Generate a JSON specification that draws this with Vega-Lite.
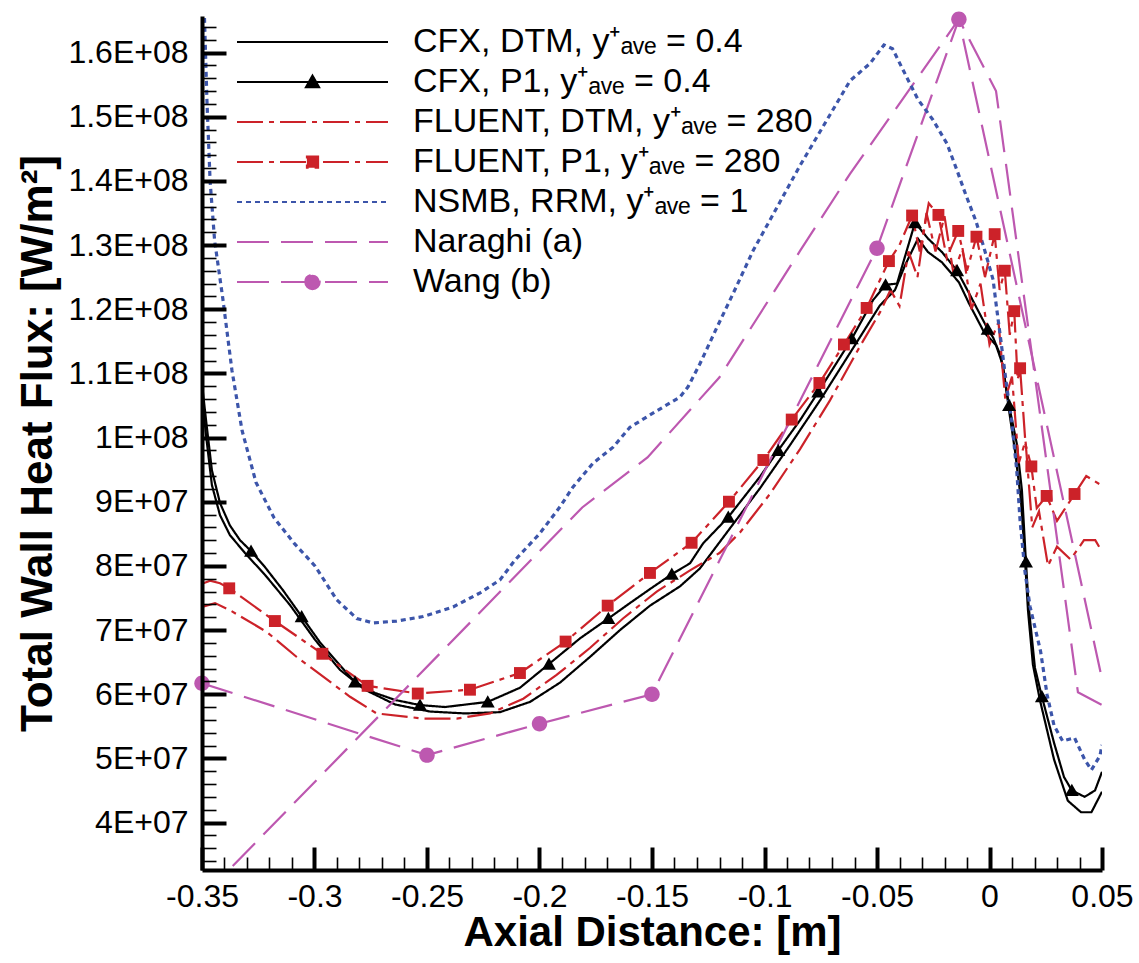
{
  "$schema": "https://vega.github.io/schema/vega-lite/v6.json",
  "width": 900,
  "height": 854,
  "autosize": {"type": "none"},
  "padding": {"left": 202, "top": 16, "right": 37, "bottom": 93},
  "background": "white",
  "config": {"view": {"stroke": null}, "font": "Liberation Sans"},
  "datasets": {
    "lines": [
      {"series": "CFX, DTM, y⁺ₐᵥₑ = 0.4", "x": -0.35, "y": 10.66e7},
      {"series": "CFX, DTM, y⁺ₐᵥₑ = 0.4", "x": -0.3482, "y": 10.03e7},
      {"series": "CFX, DTM, y⁺ₐᵥₑ = 0.4", "x": -0.3456, "y": 9.26e7},
      {"series": "CFX, DTM, y⁺ₐᵥₑ = 0.4", "x": -0.342, "y": 8.79e7},
      {"series": "CFX, DTM, y⁺ₐᵥₑ = 0.4", "x": -0.3376, "y": 8.48e7},
      {"series": "CFX, DTM, y⁺ₐᵥₑ = 0.4", "x": -0.3309, "y": 8.2e7},
      {"series": "CFX, DTM, y⁺ₐᵥₑ = 0.4", "x": -0.322, "y": 7.86e7},
      {"series": "CFX, DTM, y⁺ₐᵥₑ = 0.4", "x": -0.3109, "y": 7.39e7},
      {"series": "CFX, DTM, y⁺ₐᵥₑ = 0.4", "x": -0.2998, "y": 6.85e7},
      {"series": "CFX, DTM, y⁺ₐᵥₑ = 0.4", "x": -0.2887, "y": 6.38e7},
      {"series": "CFX, DTM, y⁺ₐᵥₑ = 0.4", "x": -0.2776, "y": 6.07e7},
      {"series": "CFX, DTM, y⁺ₐᵥₑ = 0.4", "x": -0.2642, "y": 5.84e7},
      {"series": "CFX, DTM, y⁺ₐᵥₑ = 0.4", "x": -0.2487, "y": 5.73e7},
      {"series": "CFX, DTM, y⁺ₐᵥₑ = 0.4", "x": -0.2331, "y": 5.7e7},
      {"series": "CFX, DTM, y⁺ₐᵥₑ = 0.4", "x": -0.2176, "y": 5.72e7},
      {"series": "CFX, DTM, y⁺ₐᵥₑ = 0.4", "x": -0.2042, "y": 5.88e7},
      {"series": "CFX, DTM, y⁺ₐᵥₑ = 0.4", "x": -0.1909, "y": 6.18e7},
      {"series": "CFX, DTM, y⁺ₐᵥₑ = 0.4", "x": -0.1776, "y": 6.58e7},
      {"series": "CFX, DTM, y⁺ₐᵥₑ = 0.4", "x": -0.1642, "y": 7.0e7},
      {"series": "CFX, DTM, y⁺ₐᵥₑ = 0.4", "x": -0.1509, "y": 7.38e7},
      {"series": "CFX, DTM, y⁺ₐᵥₑ = 0.4", "x": -0.1376, "y": 7.68e7},
      {"series": "CFX, DTM, y⁺ₐᵥₑ = 0.4", "x": -0.1287, "y": 7.96e7},
      {"series": "CFX, DTM, y⁺ₐᵥₑ = 0.4", "x": -0.1176, "y": 8.48e7},
      {"series": "CFX, DTM, y⁺ₐᵥₑ = 0.4", "x": -0.102, "y": 9.21e7},
      {"series": "CFX, DTM, y⁺ₐᵥₑ = 0.4", "x": -0.0887, "y": 9.88e7},
      {"series": "CFX, DTM, y⁺ₐᵥₑ = 0.4", "x": -0.0753, "y": 10.58e7},
      {"series": "CFX, DTM, y⁺ₐᵥₑ = 0.4", "x": -0.0598, "y": 11.44e7},
      {"series": "CFX, DTM, y⁺ₐᵥₑ = 0.4", "x": -0.0487, "y": 12.06e7},
      {"series": "CFX, DTM, y⁺ₐᵥₑ = 0.4", "x": -0.042, "y": 12.3e7},
      {"series": "CFX, DTM, y⁺ₐᵥₑ = 0.4", "x": -0.0376, "y": 12.68e7},
      {"series": "CFX, DTM, y⁺ₐᵥₑ = 0.4", "x": -0.0318, "y": 13.1e7},
      {"series": "CFX, DTM, y⁺ₐᵥₑ = 0.4", "x": -0.0273, "y": 12.89e7},
      {"series": "CFX, DTM, y⁺ₐᵥₑ = 0.4", "x": -0.0211, "y": 12.73e7},
      {"series": "CFX, DTM, y⁺ₐᵥₑ = 0.4", "x": -0.0136, "y": 12.42e7},
      {"series": "CFX, DTM, y⁺ₐᵥₑ = 0.4", "x": -0.0091, "y": 12.09e7},
      {"series": "CFX, DTM, y⁺ₐᵥₑ = 0.4", "x": -0.0024, "y": 11.64e7},
      {"series": "CFX, DTM, y⁺ₐᵥₑ = 0.4", "x": 0.0029, "y": 11.44e7},
      {"series": "CFX, DTM, y⁺ₐᵥₑ = 0.4", "x": 0.006, "y": 11.12e7},
      {"series": "CFX, DTM, y⁺ₐᵥₑ = 0.4", "x": 0.0087, "y": 10.42e7},
      {"series": "CFX, DTM, y⁺ₐᵥₑ = 0.4", "x": 0.0113, "y": 9.8e7},
      {"series": "CFX, DTM, y⁺ₐᵥₑ = 0.4", "x": 0.014, "y": 9.02e7},
      {"series": "CFX, DTM, y⁺ₐᵥₑ = 0.4", "x": 0.0158, "y": 8.09e7},
      {"series": "CFX, DTM, y⁺ₐᵥₑ = 0.4", "x": 0.0171, "y": 7.31e7},
      {"series": "CFX, DTM, y⁺ₐᵥₑ = 0.4", "x": 0.0193, "y": 6.46e7},
      {"series": "CFX, DTM, y⁺ₐᵥₑ = 0.4", "x": 0.0224, "y": 5.91e7},
      {"series": "CFX, DTM, y⁺ₐᵥₑ = 0.4", "x": 0.0287, "y": 4.98e7},
      {"series": "CFX, DTM, y⁺ₐᵥₑ = 0.4", "x": 0.0348, "y": 4.34e7},
      {"series": "CFX, DTM, y⁺ₐᵥₑ = 0.4", "x": 0.0407, "y": 4.16e7},
      {"series": "CFX, DTM, y⁺ₐᵥₑ = 0.4", "x": 0.0453, "y": 4.16e7},
      {"series": "CFX, DTM, y⁺ₐᵥₑ = 0.4", "x": 0.05, "y": 4.48e7},

      {"series": "CFX, P1, y⁺ₐᵥₑ = 0.4", "x": -0.35, "y": 10.84e7},
      {"series": "CFX, P1, y⁺ₐᵥₑ = 0.4", "x": -0.3482, "y": 10.27e7},
      {"series": "CFX, P1, y⁺ₐᵥₑ = 0.4", "x": -0.3456, "y": 9.49e7},
      {"series": "CFX, P1, y⁺ₐᵥₑ = 0.4", "x": -0.342, "y": 8.98e7},
      {"series": "CFX, P1, y⁺ₐᵥₑ = 0.4", "x": -0.3376, "y": 8.63e7},
      {"series": "CFX, P1, y⁺ₐᵥₑ = 0.4", "x": -0.3331, "y": 8.4e7},
      {"series": "CFX, P1, y⁺ₐᵥₑ = 0.4", "x": -0.3282, "y": 8.23e7},
      {"series": "CFX, P1, y⁺ₐᵥₑ = 0.4", "x": -0.322, "y": 7.98e7},
      {"series": "CFX, P1, y⁺ₐᵥₑ = 0.4", "x": -0.314, "y": 7.62e7},
      {"series": "CFX, P1, y⁺ₐᵥₑ = 0.4", "x": -0.3057, "y": 7.21e7},
      {"series": "CFX, P1, y⁺ₐᵥₑ = 0.4", "x": -0.2976, "y": 6.81e7},
      {"series": "CFX, P1, y⁺ₐᵥₑ = 0.4", "x": -0.2887, "y": 6.45e7},
      {"series": "CFX, P1, y⁺ₐᵥₑ = 0.4", "x": -0.282, "y": 6.19e7},
      {"series": "CFX, P1, y⁺ₐᵥₑ = 0.4", "x": -0.2731, "y": 6.02e7},
      {"series": "CFX, P1, y⁺ₐᵥₑ = 0.4", "x": -0.2642, "y": 5.91e7},
      {"series": "CFX, P1, y⁺ₐᵥₑ = 0.4", "x": -0.2531, "y": 5.83e7},
      {"series": "CFX, P1, y⁺ₐᵥₑ = 0.4", "x": -0.242, "y": 5.8e7},
      {"series": "CFX, P1, y⁺ₐᵥₑ = 0.4", "x": -0.223, "y": 5.88e7},
      {"series": "CFX, P1, y⁺ₐᵥₑ = 0.4", "x": -0.2087, "y": 6.1e7},
      {"series": "CFX, P1, y⁺ₐᵥₑ = 0.4", "x": -0.1958, "y": 6.47e7},
      {"series": "CFX, P1, y⁺ₐᵥₑ = 0.4", "x": -0.182, "y": 6.87e7},
      {"series": "CFX, P1, y⁺ₐᵥₑ = 0.4", "x": -0.1694, "y": 7.18e7},
      {"series": "CFX, P1, y⁺ₐᵥₑ = 0.4", "x": -0.1598, "y": 7.42e7},
      {"series": "CFX, P1, y⁺ₐᵥₑ = 0.4", "x": -0.1496, "y": 7.67e7},
      {"series": "CFX, P1, y⁺ₐᵥₑ = 0.4", "x": -0.1412, "y": 7.87e7},
      {"series": "CFX, P1, y⁺ₐᵥₑ = 0.4", "x": -0.1331, "y": 8.04e7},
      {"series": "CFX, P1, y⁺ₐᵥₑ = 0.4", "x": -0.1273, "y": 8.35e7},
      {"series": "CFX, P1, y⁺ₐᵥₑ = 0.4", "x": -0.1161, "y": 8.76e7},
      {"series": "CFX, P1, y⁺ₐᵥₑ = 0.4", "x": -0.102, "y": 9.39e7},
      {"series": "CFX, P1, y⁺ₐᵥₑ = 0.4", "x": -0.0939, "y": 9.8e7},
      {"series": "CFX, P1, y⁺ₐᵥₑ = 0.4", "x": -0.0842, "y": 10.27e7},
      {"series": "CFX, P1, y⁺ₐᵥₑ = 0.4", "x": -0.0761, "y": 10.71e7},
      {"series": "CFX, P1, y⁺ₐᵥₑ = 0.4", "x": -0.0612, "y": 11.54e7},
      {"series": "CFX, P1, y⁺ₐᵥₑ = 0.4", "x": -0.0518, "y": 12.14e7},
      {"series": "CFX, P1, y⁺ₐᵥₑ = 0.4", "x": -0.0462, "y": 12.38e7},
      {"series": "CFX, P1, y⁺ₐᵥₑ = 0.4", "x": -0.0411, "y": 12.4e7},
      {"series": "CFX, P1, y⁺ₐᵥₑ = 0.4", "x": -0.0331, "y": 13.35e7},
      {"series": "CFX, P1, y⁺ₐᵥₑ = 0.4", "x": -0.0273, "y": 13.1e7},
      {"series": "CFX, P1, y⁺ₐᵥₑ = 0.4", "x": -0.0211, "y": 12.89e7},
      {"series": "CFX, P1, y⁺ₐᵥₑ = 0.4", "x": -0.0144, "y": 12.6e7},
      {"series": "CFX, P1, y⁺ₐᵥₑ = 0.4", "x": -0.0091, "y": 12.25e7},
      {"series": "CFX, P1, y⁺ₐᵥₑ = 0.4", "x": -0.0008, "y": 11.69e7},
      {"series": "CFX, P1, y⁺ₐᵥₑ = 0.4", "x": 0.0016, "y": 11.56e7},
      {"series": "CFX, P1, y⁺ₐᵥₑ = 0.4", "x": 0.0051, "y": 11.26e7},
      {"series": "CFX, P1, y⁺ₐᵥₑ = 0.4", "x": 0.0087, "y": 10.5e7},
      {"series": "CFX, P1, y⁺ₐᵥₑ = 0.4", "x": 0.0121, "y": 9.91e7},
      {"series": "CFX, P1, y⁺ₐᵥₑ = 0.4", "x": 0.0144, "y": 9.18e7},
      {"series": "CFX, P1, y⁺ₐᵥₑ = 0.4", "x": 0.0162, "y": 8.06e7},
      {"series": "CFX, P1, y⁺ₐᵥₑ = 0.4", "x": 0.0174, "y": 7.37e7},
      {"series": "CFX, P1, y⁺ₐᵥₑ = 0.4", "x": 0.0202, "y": 6.41e7},
      {"series": "CFX, P1, y⁺ₐᵥₑ = 0.4", "x": 0.0233, "y": 5.96e7},
      {"series": "CFX, P1, y⁺ₐᵥₑ = 0.4", "x": 0.0287, "y": 5.24e7},
      {"series": "CFX, P1, y⁺ₐᵥₑ = 0.4", "x": 0.0331, "y": 4.71e7},
      {"series": "CFX, P1, y⁺ₐᵥₑ = 0.4", "x": 0.0366, "y": 4.5e7},
      {"series": "CFX, P1, y⁺ₐᵥₑ = 0.4", "x": 0.0423, "y": 4.4e7},
      {"series": "CFX, P1, y⁺ₐᵥₑ = 0.4", "x": 0.0469, "y": 4.5e7},
      {"series": "CFX, P1, y⁺ₐᵥₑ = 0.4", "x": 0.05, "y": 4.79e7},

      {"series": "FLUENT, DTM, y⁺ₐᵥₑ = 280", "x": -0.35, "y": 7.36e7},
      {"series": "FLUENT, DTM, y⁺ₐᵥₑ = 280", "x": -0.3442, "y": 7.42e7},
      {"series": "FLUENT, DTM, y⁺ₐᵥₑ = 280", "x": -0.3376, "y": 7.31e7},
      {"series": "FLUENT, DTM, y⁺ₐᵥₑ = 280", "x": -0.3212, "y": 6.97e7},
      {"series": "FLUENT, DTM, y⁺ₐᵥₑ = 280", "x": -0.3079, "y": 6.58e7},
      {"series": "FLUENT, DTM, y⁺ₐᵥₑ = 280", "x": -0.2842, "y": 5.96e7},
      {"series": "FLUENT, DTM, y⁺ₐᵥₑ = 280", "x": -0.2724, "y": 5.7e7},
      {"series": "FLUENT, DTM, y⁺ₐᵥₑ = 280", "x": -0.2516, "y": 5.62e7},
      {"series": "FLUENT, DTM, y⁺ₐᵥₑ = 280", "x": -0.2368, "y": 5.62e7},
      {"series": "FLUENT, DTM, y⁺ₐᵥₑ = 280", "x": -0.222, "y": 5.7e7},
      {"series": "FLUENT, DTM, y⁺ₐᵥₑ = 280", "x": -0.2072, "y": 5.93e7},
      {"series": "FLUENT, DTM, y⁺ₐᵥₑ = 280", "x": -0.1924, "y": 6.3e7},
      {"series": "FLUENT, DTM, y⁺ₐᵥₑ = 280", "x": -0.1776, "y": 6.72e7},
      {"series": "FLUENT, DTM, y⁺ₐᵥₑ = 280", "x": -0.1629, "y": 7.18e7},
      {"series": "FLUENT, DTM, y⁺ₐᵥₑ = 280", "x": -0.1479, "y": 7.6e7},
      {"series": "FLUENT, DTM, y⁺ₐᵥₑ = 280", "x": -0.1331, "y": 7.93e7},
      {"series": "FLUENT, DTM, y⁺ₐᵥₑ = 280", "x": -0.12, "y": 8.2e7},
      {"series": "FLUENT, DTM, y⁺ₐᵥₑ = 280", "x": -0.1109, "y": 8.52e7},
      {"series": "FLUENT, DTM, y⁺ₐᵥₑ = 280", "x": -0.0976, "y": 9.12e7},
      {"series": "FLUENT, DTM, y⁺ₐᵥₑ = 280", "x": -0.0842, "y": 9.82e7},
      {"series": "FLUENT, DTM, y⁺ₐᵥₑ = 280", "x": -0.0709, "y": 10.58e7},
      {"series": "FLUENT, DTM, y⁺ₐᵥₑ = 280", "x": -0.0576, "y": 11.42e7},
      {"series": "FLUENT, DTM, y⁺ₐᵥₑ = 280", "x": -0.0487, "y": 11.95e7},
      {"series": "FLUENT, DTM, y⁺ₐᵥₑ = 280", "x": -0.044, "y": 12.3e7},
      {"series": "FLUENT, DTM, y⁺ₐᵥₑ = 280", "x": -0.04, "y": 12.05e7},
      {"series": "FLUENT, DTM, y⁺ₐᵥₑ = 280", "x": -0.036, "y": 12.9e7},
      {"series": "FLUENT, DTM, y⁺ₐᵥₑ = 280", "x": -0.032, "y": 12.5e7},
      {"series": "FLUENT, DTM, y⁺ₐᵥₑ = 280", "x": -0.028, "y": 13.5e7},
      {"series": "FLUENT, DTM, y⁺ₐᵥₑ = 280", "x": -0.024, "y": 12.9e7},
      {"series": "FLUENT, DTM, y⁺ₐᵥₑ = 280", "x": -0.02, "y": 13.45e7},
      {"series": "FLUENT, DTM, y⁺ₐᵥₑ = 280", "x": -0.016, "y": 12.55e7},
      {"series": "FLUENT, DTM, y⁺ₐᵥₑ = 280", "x": -0.012, "y": 12.95e7},
      {"series": "FLUENT, DTM, y⁺ₐᵥₑ = 280", "x": -0.008, "y": 12.0e7},
      {"series": "FLUENT, DTM, y⁺ₐᵥₑ = 280", "x": -0.004, "y": 12.4e7},
      {"series": "FLUENT, DTM, y⁺ₐᵥₑ = 280", "x": 0.0, "y": 11.45e7},
      {"series": "FLUENT, DTM, y⁺ₐᵥₑ = 280", "x": 0.004, "y": 11.8e7},
      {"series": "FLUENT, DTM, y⁺ₐᵥₑ = 280", "x": 0.007, "y": 10.6e7},
      {"series": "FLUENT, DTM, y⁺ₐᵥₑ = 280", "x": 0.01, "y": 10.95e7},
      {"series": "FLUENT, DTM, y⁺ₐᵥₑ = 280", "x": 0.013, "y": 9.6e7},
      {"series": "FLUENT, DTM, y⁺ₐᵥₑ = 280", "x": 0.016, "y": 9.95e7},
      {"series": "FLUENT, DTM, y⁺ₐᵥₑ = 280", "x": 0.019, "y": 8.6e7},
      {"series": "FLUENT, DTM, y⁺ₐᵥₑ = 280", "x": 0.022, "y": 8.85e7},
      {"series": "FLUENT, DTM, y⁺ₐᵥₑ = 280", "x": 0.026, "y": 8.0e7},
      {"series": "FLUENT, DTM, y⁺ₐᵥₑ = 280", "x": 0.03, "y": 8.3e7},
      {"series": "FLUENT, DTM, y⁺ₐᵥₑ = 280", "x": 0.036, "y": 8.1e7},
      {"series": "FLUENT, DTM, y⁺ₐᵥₑ = 280", "x": 0.042, "y": 8.4e7},
      {"series": "FLUENT, DTM, y⁺ₐᵥₑ = 280", "x": 0.047, "y": 8.4e7},
      {"series": "FLUENT, DTM, y⁺ₐᵥₑ = 280", "x": 0.05, "y": 8.22e7},

      {"series": "FLUENT, P1, y⁺ₐᵥₑ = 280", "x": -0.35, "y": 7.72e7},
      {"series": "FLUENT, P1, y⁺ₐᵥₑ = 280", "x": -0.3464, "y": 7.77e7},
      {"series": "FLUENT, P1, y⁺ₐᵥₑ = 280", "x": -0.342, "y": 7.73e7},
      {"series": "FLUENT, P1, y⁺ₐᵥₑ = 280", "x": -0.3379, "y": 7.65e7},
      {"series": "FLUENT, P1, y⁺ₐᵥₑ = 280", "x": -0.3176, "y": 7.14e7},
      {"series": "FLUENT, P1, y⁺ₐᵥₑ = 280", "x": -0.2965, "y": 6.63e7},
      {"series": "FLUENT, P1, y⁺ₐᵥₑ = 280", "x": -0.2764, "y": 6.13e7},
      {"series": "FLUENT, P1, y⁺ₐᵥₑ = 280", "x": -0.2541, "y": 6.01e7},
      {"series": "FLUENT, P1, y⁺ₐᵥₑ = 280", "x": -0.2309, "y": 6.07e7},
      {"series": "FLUENT, P1, y⁺ₐᵥₑ = 280", "x": -0.2087, "y": 6.33e7},
      {"series": "FLUENT, P1, y⁺ₐᵥₑ = 280", "x": -0.1884, "y": 6.82e7},
      {"series": "FLUENT, P1, y⁺ₐᵥₑ = 280", "x": -0.1697, "y": 7.38e7},
      {"series": "FLUENT, P1, y⁺ₐᵥₑ = 280", "x": -0.1509, "y": 7.89e7},
      {"series": "FLUENT, P1, y⁺ₐᵥₑ = 280", "x": -0.1324, "y": 8.36e7},
      {"series": "FLUENT, P1, y⁺ₐᵥₑ = 280", "x": -0.1158, "y": 9.0e7},
      {"series": "FLUENT, P1, y⁺ₐᵥₑ = 280", "x": -0.1005, "y": 9.65e7},
      {"series": "FLUENT, P1, y⁺ₐᵥₑ = 280", "x": -0.0879, "y": 10.28e7},
      {"series": "FLUENT, P1, y⁺ₐᵥₑ = 280", "x": -0.0756, "y": 10.85e7},
      {"series": "FLUENT, P1, y⁺ₐᵥₑ = 280", "x": -0.0647, "y": 11.45e7},
      {"series": "FLUENT, P1, y⁺ₐᵥₑ = 280", "x": -0.0546, "y": 12.02e7},
      {"series": "FLUENT, P1, y⁺ₐᵥₑ = 280", "x": -0.0447, "y": 12.75e7},
      {"series": "FLUENT, P1, y⁺ₐᵥₑ = 280", "x": -0.04, "y": 13.0e7},
      {"series": "FLUENT, P1, y⁺ₐᵥₑ = 280", "x": -0.0344, "y": 13.46e7},
      {"series": "FLUENT, P1, y⁺ₐᵥₑ = 280", "x": -0.031, "y": 12.9e7},
      {"series": "FLUENT, P1, y⁺ₐᵥₑ = 280", "x": -0.027, "y": 13.65e7},
      {"series": "FLUENT, P1, y⁺ₐᵥₑ = 280", "x": -0.0227, "y": 13.47e7},
      {"series": "FLUENT, P1, y⁺ₐᵥₑ = 280", "x": -0.019, "y": 12.8e7},
      {"series": "FLUENT, P1, y⁺ₐᵥₑ = 280", "x": -0.0139, "y": 13.22e7},
      {"series": "FLUENT, P1, y⁺ₐᵥₑ = 280", "x": -0.01, "y": 12.6e7},
      {"series": "FLUENT, P1, y⁺ₐᵥₑ = 280", "x": -0.0058, "y": 13.13e7},
      {"series": "FLUENT, P1, y⁺ₐᵥₑ = 280", "x": -0.002, "y": 12.5e7},
      {"series": "FLUENT, P1, y⁺ₐᵥₑ = 280", "x": 0.0023, "y": 13.17e7},
      {"series": "FLUENT, P1, y⁺ₐᵥₑ = 280", "x": 0.0045, "y": 12.3e7},
      {"series": "FLUENT, P1, y⁺ₐᵥₑ = 280", "x": 0.0068, "y": 12.6e7},
      {"series": "FLUENT, P1, y⁺ₐᵥₑ = 280", "x": 0.009, "y": 11.6e7},
      {"series": "FLUENT, P1, y⁺ₐᵥₑ = 280", "x": 0.011, "y": 11.97e7},
      {"series": "FLUENT, P1, y⁺ₐᵥₑ = 280", "x": 0.0125, "y": 10.9e7},
      {"series": "FLUENT, P1, y⁺ₐᵥₑ = 280", "x": 0.0136, "y": 11.08e7},
      {"series": "FLUENT, P1, y⁺ₐᵥₑ = 280", "x": 0.016, "y": 9.9e7},
      {"series": "FLUENT, P1, y⁺ₐᵥₑ = 280", "x": 0.0186, "y": 9.55e7},
      {"series": "FLUENT, P1, y⁺ₐᵥₑ = 280", "x": 0.021, "y": 8.9e7},
      {"series": "FLUENT, P1, y⁺ₐᵥₑ = 280", "x": 0.0254, "y": 9.09e7},
      {"series": "FLUENT, P1, y⁺ₐᵥₑ = 280", "x": 0.03, "y": 8.7e7},
      {"series": "FLUENT, P1, y⁺ₐᵥₑ = 280", "x": 0.0378, "y": 9.12e7},
      {"series": "FLUENT, P1, y⁺ₐᵥₑ = 280", "x": 0.043, "y": 9.4e7},
      {"series": "FLUENT, P1, y⁺ₐᵥₑ = 280", "x": 0.05, "y": 9.25e7},

      {"series": "NSMB, RRM, y⁺ₐᵥₑ = 1", "x": -0.3489, "y": 16.54e7},
      {"series": "NSMB, RRM, y⁺ₐᵥₑ = 1", "x": -0.3478, "y": 15.25e7},
      {"series": "NSMB, RRM, y⁺ₐᵥₑ = 1", "x": -0.3464, "y": 14.0e7},
      {"series": "NSMB, RRM, y⁺ₐᵥₑ = 1", "x": -0.3444, "y": 13.07e7},
      {"series": "NSMB, RRM, y⁺ₐᵥₑ = 1", "x": -0.3408, "y": 12.18e7},
      {"series": "NSMB, RRM, y⁺ₐᵥₑ = 1", "x": -0.3367, "y": 11.05e7},
      {"series": "NSMB, RRM, y⁺ₐᵥₑ = 1", "x": -0.3322, "y": 10.11e7},
      {"series": "NSMB, RRM, y⁺ₐᵥₑ = 1", "x": -0.326, "y": 9.3e7},
      {"series": "NSMB, RRM, y⁺ₐᵥₑ = 1", "x": -0.318, "y": 8.75e7},
      {"series": "NSMB, RRM, y⁺ₐᵥₑ = 1", "x": -0.309, "y": 8.35e7},
      {"series": "NSMB, RRM, y⁺ₐᵥₑ = 1", "x": -0.2998, "y": 8.0e7},
      {"series": "NSMB, RRM, y⁺ₐᵥₑ = 1", "x": -0.2901, "y": 7.47e7},
      {"series": "NSMB, RRM, y⁺ₐᵥₑ = 1", "x": -0.2812, "y": 7.18e7},
      {"series": "NSMB, RRM, y⁺ₐᵥₑ = 1", "x": -0.274, "y": 7.11e7},
      {"series": "NSMB, RRM, y⁺ₐᵥₑ = 1", "x": -0.2635, "y": 7.14e7},
      {"series": "NSMB, RRM, y⁺ₐᵥₑ = 1", "x": -0.2518, "y": 7.21e7},
      {"series": "NSMB, RRM, y⁺ₐᵥₑ = 1", "x": -0.2384, "y": 7.36e7},
      {"series": "NSMB, RRM, y⁺ₐᵥₑ = 1", "x": -0.2264, "y": 7.58e7},
      {"series": "NSMB, RRM, y⁺ₐᵥₑ = 1", "x": -0.2176, "y": 7.78e7},
      {"series": "NSMB, RRM, y⁺ₐᵥₑ = 1", "x": -0.2109, "y": 8.09e7},
      {"series": "NSMB, RRM, y⁺ₐᵥₑ = 1", "x": -0.2, "y": 8.5e7},
      {"series": "NSMB, RRM, y⁺ₐᵥₑ = 1", "x": -0.1909, "y": 8.92e7},
      {"series": "NSMB, RRM, y⁺ₐᵥₑ = 1", "x": -0.1851, "y": 9.23e7},
      {"series": "NSMB, RRM, y⁺ₐᵥₑ = 1", "x": -0.1762, "y": 9.6e7},
      {"series": "NSMB, RRM, y⁺ₐᵥₑ = 1", "x": -0.1673, "y": 9.85e7},
      {"series": "NSMB, RRM, y⁺ₐᵥₑ = 1", "x": -0.1598, "y": 10.16e7},
      {"series": "NSMB, RRM, y⁺ₐᵥₑ = 1", "x": -0.1496, "y": 10.38e7},
      {"series": "NSMB, RRM, y⁺ₐᵥₑ = 1", "x": -0.1376, "y": 10.63e7},
      {"series": "NSMB, RRM, y⁺ₐᵥₑ = 1", "x": -0.134, "y": 10.79e7},
      {"series": "NSMB, RRM, y⁺ₐᵥₑ = 1", "x": -0.1287, "y": 11.15e7},
      {"series": "NSMB, RRM, y⁺ₐᵥₑ = 1", "x": -0.1211, "y": 11.72e7},
      {"series": "NSMB, RRM, y⁺ₐᵥₑ = 1", "x": -0.114, "y": 12.24e7},
      {"series": "NSMB, RRM, y⁺ₐᵥₑ = 1", "x": -0.1051, "y": 12.91e7},
      {"series": "NSMB, RRM, y⁺ₐᵥₑ = 1", "x": -0.0842, "y": 14.24e7},
      {"series": "NSMB, RRM, y⁺ₐᵥₑ = 1", "x": -0.062, "y": 15.56e7},
      {"series": "NSMB, RRM, y⁺ₐᵥₑ = 1", "x": -0.0531, "y": 15.83e7},
      {"series": "NSMB, RRM, y⁺ₐᵥₑ = 1", "x": -0.0469, "y": 16.12e7},
      {"series": "NSMB, RRM, y⁺ₐᵥₑ = 1", "x": -0.0431, "y": 16.06e7},
      {"series": "NSMB, RRM, y⁺ₐᵥₑ = 1", "x": -0.038, "y": 15.7e7},
      {"series": "NSMB, RRM, y⁺ₐᵥₑ = 1", "x": -0.0318, "y": 15.27e7},
      {"series": "NSMB, RRM, y⁺ₐᵥₑ = 1", "x": -0.0251, "y": 14.95e7},
      {"series": "NSMB, RRM, y⁺ₐᵥₑ = 1", "x": -0.0189, "y": 14.58e7},
      {"series": "NSMB, RRM, y⁺ₐᵥₑ = 1", "x": -0.0144, "y": 14.16e7},
      {"series": "NSMB, RRM, y⁺ₐᵥₑ = 1", "x": -0.0106, "y": 13.79e7},
      {"series": "NSMB, RRM, y⁺ₐᵥₑ = 1", "x": -0.006, "y": 13.37e7},
      {"series": "NSMB, RRM, y⁺ₐᵥₑ = 1", "x": -0.0024, "y": 12.95e7},
      {"series": "NSMB, RRM, y⁺ₐᵥₑ = 1", "x": 0.0016, "y": 12.46e7},
      {"series": "NSMB, RRM, y⁺ₐᵥₑ = 1", "x": 0.0029, "y": 12.09e7},
      {"series": "NSMB, RRM, y⁺ₐᵥₑ = 1", "x": 0.0051, "y": 11.5e7},
      {"series": "NSMB, RRM, y⁺ₐᵥₑ = 1", "x": 0.0076, "y": 10.81e7},
      {"series": "NSMB, RRM, y⁺ₐᵥₑ = 1", "x": 0.0098, "y": 10.28e7},
      {"series": "NSMB, RRM, y⁺ₐᵥₑ = 1", "x": 0.0121, "y": 9.49e7},
      {"series": "NSMB, RRM, y⁺ₐᵥₑ = 1", "x": 0.0136, "y": 8.7e7},
      {"series": "NSMB, RRM, y⁺ₐᵥₑ = 1", "x": 0.0158, "y": 7.9e7},
      {"series": "NSMB, RRM, y⁺ₐᵥₑ = 1", "x": 0.018, "y": 7.37e7},
      {"series": "NSMB, RRM, y⁺ₐᵥₑ = 1", "x": 0.0227, "y": 6.67e7},
      {"series": "NSMB, RRM, y⁺ₐᵥₑ = 1", "x": 0.0256, "y": 5.99e7},
      {"series": "NSMB, RRM, y⁺ₐᵥₑ = 1", "x": 0.0287, "y": 5.51e7},
      {"series": "NSMB, RRM, y⁺ₐᵥₑ = 1", "x": 0.0325, "y": 5.27e7},
      {"series": "NSMB, RRM, y⁺ₐᵥₑ = 1", "x": 0.0378, "y": 5.32e7},
      {"series": "NSMB, RRM, y⁺ₐᵥₑ = 1", "x": 0.0423, "y": 4.98e7},
      {"series": "NSMB, RRM, y⁺ₐᵥₑ = 1", "x": 0.0453, "y": 4.82e7},
      {"series": "NSMB, RRM, y⁺ₐᵥₑ = 1", "x": 0.0491, "y": 5.04e7},
      {"series": "NSMB, RRM, y⁺ₐᵥₑ = 1", "x": 0.05, "y": 5.21e7},

      {"series": "Naraghi (a)", "x": -0.35, "y": 2.83e7},
      {"series": "Naraghi (a)", "x": -0.181, "y": 8.91e7},
      {"series": "Naraghi (a)", "x": -0.152, "y": 9.69e7},
      {"series": "Naraghi (a)", "x": -0.12, "y": 10.94e7},
      {"series": "Naraghi (a)", "x": -0.084, "y": 12.92e7},
      {"series": "Naraghi (a)", "x": -0.062, "y": 14.11e7},
      {"series": "Naraghi (a)", "x": -0.0136, "y": 16.52e7},
      {"series": "Naraghi (a)", "x": 0.0029, "y": 15.4e7},
      {"series": "Naraghi (a)", "x": 0.0393, "y": 6.03e7},
      {"series": "Naraghi (a)", "x": 0.05, "y": 5.83e7},

      {"series": "Wang (b)", "x": -0.35, "y": 6.17e7},
      {"series": "Wang (b)", "x": -0.25, "y": 5.05e7},
      {"series": "Wang (b)", "x": -0.2, "y": 5.54e7},
      {"series": "Wang (b)", "x": -0.15, "y": 6.0e7},
      {"series": "Wang (b)", "x": -0.05, "y": 12.95e7},
      {"series": "Wang (b)", "x": -0.0136, "y": 16.52e7},
      {"series": "Wang (b)", "x": 0.06, "y": 4.62e7}
    ],
    "markers": [
      {"series": "CFX, P1, y⁺ₐᵥₑ = 0.4", "x": -0.3282, "y": 8.23e7},
      {"series": "CFX, P1, y⁺ₐᵥₑ = 0.4", "x": -0.3057, "y": 7.21e7},
      {"series": "CFX, P1, y⁺ₐᵥₑ = 0.4", "x": -0.282, "y": 6.19e7},
      {"series": "CFX, P1, y⁺ₐᵥₑ = 0.4", "x": -0.2531, "y": 5.83e7},
      {"series": "CFX, P1, y⁺ₐᵥₑ = 0.4", "x": -0.223, "y": 5.88e7},
      {"series": "CFX, P1, y⁺ₐᵥₑ = 0.4", "x": -0.1958, "y": 6.47e7},
      {"series": "CFX, P1, y⁺ₐᵥₑ = 0.4", "x": -0.1694, "y": 7.18e7},
      {"series": "CFX, P1, y⁺ₐᵥₑ = 0.4", "x": -0.1412, "y": 7.87e7},
      {"series": "CFX, P1, y⁺ₐᵥₑ = 0.4", "x": -0.1161, "y": 8.76e7},
      {"series": "CFX, P1, y⁺ₐᵥₑ = 0.4", "x": -0.0939, "y": 9.8e7},
      {"series": "CFX, P1, y⁺ₐᵥₑ = 0.4", "x": -0.0761, "y": 10.71e7},
      {"series": "CFX, P1, y⁺ₐᵥₑ = 0.4", "x": -0.0612, "y": 11.54e7},
      {"series": "CFX, P1, y⁺ₐᵥₑ = 0.4", "x": -0.0462, "y": 12.38e7},
      {"series": "CFX, P1, y⁺ₐᵥₑ = 0.4", "x": -0.0331, "y": 13.35e7},
      {"series": "CFX, P1, y⁺ₐᵥₑ = 0.4", "x": -0.0144, "y": 12.6e7},
      {"series": "CFX, P1, y⁺ₐᵥₑ = 0.4", "x": -0.0008, "y": 11.69e7},
      {"series": "CFX, P1, y⁺ₐᵥₑ = 0.4", "x": 0.0087, "y": 10.5e7},
      {"series": "CFX, P1, y⁺ₐᵥₑ = 0.4", "x": 0.0162, "y": 8.06e7},
      {"series": "CFX, P1, y⁺ₐᵥₑ = 0.4", "x": 0.0233, "y": 5.96e7},
      {"series": "CFX, P1, y⁺ₐᵥₑ = 0.4", "x": 0.0366, "y": 4.5e7},

      {"series": "FLUENT, P1, y⁺ₐᵥₑ = 280", "x": -0.3379, "y": 7.65e7},
      {"series": "FLUENT, P1, y⁺ₐᵥₑ = 280", "x": -0.3176, "y": 7.14e7},
      {"series": "FLUENT, P1, y⁺ₐᵥₑ = 280", "x": -0.2965, "y": 6.63e7},
      {"series": "FLUENT, P1, y⁺ₐᵥₑ = 280", "x": -0.2764, "y": 6.13e7},
      {"series": "FLUENT, P1, y⁺ₐᵥₑ = 280", "x": -0.2541, "y": 6.01e7},
      {"series": "FLUENT, P1, y⁺ₐᵥₑ = 280", "x": -0.2309, "y": 6.07e7},
      {"series": "FLUENT, P1, y⁺ₐᵥₑ = 280", "x": -0.2087, "y": 6.33e7},
      {"series": "FLUENT, P1, y⁺ₐᵥₑ = 280", "x": -0.1884, "y": 6.82e7},
      {"series": "FLUENT, P1, y⁺ₐᵥₑ = 280", "x": -0.1697, "y": 7.38e7},
      {"series": "FLUENT, P1, y⁺ₐᵥₑ = 280", "x": -0.1509, "y": 7.89e7},
      {"series": "FLUENT, P1, y⁺ₐᵥₑ = 280", "x": -0.1324, "y": 8.36e7},
      {"series": "FLUENT, P1, y⁺ₐᵥₑ = 280", "x": -0.1158, "y": 9.0e7},
      {"series": "FLUENT, P1, y⁺ₐᵥₑ = 280", "x": -0.1005, "y": 9.65e7},
      {"series": "FLUENT, P1, y⁺ₐᵥₑ = 280", "x": -0.0879, "y": 10.28e7},
      {"series": "FLUENT, P1, y⁺ₐᵥₑ = 280", "x": -0.0756, "y": 10.85e7},
      {"series": "FLUENT, P1, y⁺ₐᵥₑ = 280", "x": -0.0647, "y": 11.45e7},
      {"series": "FLUENT, P1, y⁺ₐᵥₑ = 280", "x": -0.0546, "y": 12.02e7},
      {"series": "FLUENT, P1, y⁺ₐᵥₑ = 280", "x": -0.0447, "y": 12.75e7},
      {"series": "FLUENT, P1, y⁺ₐᵥₑ = 280", "x": -0.0344, "y": 13.46e7},
      {"series": "FLUENT, P1, y⁺ₐᵥₑ = 280", "x": -0.0227, "y": 13.47e7},
      {"series": "FLUENT, P1, y⁺ₐᵥₑ = 280", "x": -0.0139, "y": 13.22e7},
      {"series": "FLUENT, P1, y⁺ₐᵥₑ = 280", "x": -0.0058, "y": 13.13e7},
      {"series": "FLUENT, P1, y⁺ₐᵥₑ = 280", "x": 0.0023, "y": 13.17e7},
      {"series": "FLUENT, P1, y⁺ₐᵥₑ = 280", "x": 0.0068, "y": 12.6e7},
      {"series": "FLUENT, P1, y⁺ₐᵥₑ = 280", "x": 0.011, "y": 11.97e7},
      {"series": "FLUENT, P1, y⁺ₐᵥₑ = 280", "x": 0.0136, "y": 11.08e7},
      {"series": "FLUENT, P1, y⁺ₐᵥₑ = 280", "x": 0.0186, "y": 9.55e7},
      {"series": "FLUENT, P1, y⁺ₐᵥₑ = 280", "x": 0.0254, "y": 9.09e7},
      {"series": "FLUENT, P1, y⁺ₐᵥₑ = 280", "x": 0.0378, "y": 9.12e7},

      {"series": "Wang (b)", "x": -0.35, "y": 6.17e7},
      {"series": "Wang (b)", "x": -0.25, "y": 5.05e7},
      {"series": "Wang (b)", "x": -0.2, "y": 5.54e7},
      {"series": "Wang (b)", "x": -0.15, "y": 6.0e7},
      {"series": "Wang (b)", "x": -0.05, "y": 12.95e7},
      {"series": "Wang (b)", "x": -0.0136, "y": 16.52e7}
    ]
  },
  "encoding": {
    "x": {
      "field": "x", "type": "quantitative",
      "scale": {"domain": [-0.35, 0.05], "nice": false, "zero": false},
      "axis": {
        "values": [-0.35,-0.34,-0.33,-0.32,-0.31,-0.3,-0.29,-0.28,-0.27,-0.26,-0.25,-0.24,-0.23,-0.22,-0.21,-0.2,-0.19,-0.18,-0.17,-0.16,-0.15,-0.14,-0.13,-0.12,-0.11,-0.1,-0.09,-0.08,-0.07,-0.06,-0.05,-0.04,-0.03,-0.02,-0.01,0,0.01,0.02,0.03,0.04,0.05],
        "labelExpr": "round(datum.value*100) % 5 === 0 ? toString(round(datum.value*100)/100) : ''",
        "tickSize": {"condition": {"test": "round(datum.value*100) % 5 === 0", "value": -23}, "value": -13},
        "tickWidth": {"condition": {"test": "round(datum.value*100) % 5 === 0", "value": 4}, "value": 1.6},
        "tickColor": "black",
        "domainColor": "black", "domainWidth": 4,
        "grid": false,
        "labelFont": "Liberation Sans", "labelFontSize": 32, "labelColor": "black",
        "labelPadding": 34, "labelFlush": false, "labelOverlap": false, "labelBound": false,
        "title": "Axial Distance: [m]",
        "titleFont": "Liberation Sans", "titleFontSize": 42, "titleFontWeight": "bold", "titleColor": "black",
        "titlePadding": -10,
        "zindex": 1
      }
    },
    "y": {
      "field": "y", "type": "quantitative",
      "scale": {"domain": [32600000, 165700000], "nice": false, "zero": false},
      "axis": {
        "values": [3.4e7,3.6e7,3.8e7,4e7,4.2e7,4.4e7,4.6e7,4.8e7,5e7,5.2e7,5.4e7,5.6e7,5.8e7,6e7,6.2e7,6.4e7,6.6e7,6.8e7,7e7,7.2e7,7.4e7,7.6e7,7.8e7,8e7,8.2e7,8.4e7,8.6e7,8.8e7,9e7,9.2e7,9.4e7,9.6e7,9.8e7,1e8,1.02e8,1.04e8,1.06e8,1.08e8,1.1e8,1.12e8,1.14e8,1.16e8,1.18e8,1.2e8,1.22e8,1.24e8,1.26e8,1.28e8,1.3e8,1.32e8,1.34e8,1.36e8,1.38e8,1.4e8,1.42e8,1.44e8,1.46e8,1.48e8,1.5e8,1.52e8,1.54e8,1.56e8,1.58e8,1.6e8,1.62e8,1.64e8],
        "labelExpr": "round(datum.value/1e6) % 10 === 0 ? (datum.value >= 1e8 ? toString(round(datum.value/1e7)/10) + 'E+08' : toString(round(datum.value/1e7)) + 'E+07') : ''",
        "tickSize": {"condition": {"test": "round(datum.value/1e6) % 10 === 0", "value": -24}, "value": -14},
        "tickWidth": {"condition": {"test": "round(datum.value/1e6) % 10 === 0", "value": 4}, "value": 1.6},
        "tickColor": "black",
        "domainColor": "black", "domainWidth": 4,
        "grid": false,
        "labelFont": "Liberation Sans", "labelFontSize": 32, "labelColor": "black",
        "labelPadding": 38, "labelFlush": false, "labelOverlap": false, "labelBound": false,
        "title": "Total Wall Heat Flux: [W/m²]",
        "titleFont": "Liberation Sans", "titleFontSize": 44, "titleFontWeight": "bold", "titleColor": "black",
        "titlePadding": 7,
        "zindex": 1
      }
    }
  },
  "layer": [
    {
      "data": {"name": "lines"},
      "transform": [{"filter": "indexof(datum.series, 'NSMB') < 0"}],
      "mark": {"type": "line", "clip": true, "strokeWidth": 2.2},
      "encoding": {
        "color": {
          "field": "series", "type": "nominal",
          "scale": {
            "domain": ["CFX, DTM, y⁺ₐᵥₑ = 0.4", "CFX, P1, y⁺ₐᵥₑ = 0.4", "FLUENT, DTM, y⁺ₐᵥₑ = 280", "FLUENT, P1, y⁺ₐᵥₑ = 280", "NSMB, RRM, y⁺ₐᵥₑ = 1", "Naraghi (a)", "Wang (b)"],
            "range": ["#000000", "#000000", "#cc2229", "#cc2229", "#3c55aa", "#bd58b0", "#bd58b0"]
          },
          "legend": {
            "title": null, "orient": "none", "legendX": 93.5, "legendY": 9, "padding": 0, "rowPadding": 6,
            "symbolSize": 625, "symbolStrokeWidth": 2,
            "labelFont": "Liberation Sans", "labelFontSize": 34, "labelColor": "black", "labelOffset": 83.5, "labelLimit": 800,
            "encode": {
              "symbols": {
                "update": {
                  "shape": {"signal": "['M-6.04,0H6.04','M-6.04,0H6.04M0,-0.52L0.53,0.42L-0.53,0.42Z','M-6.04,0H6.04','M-6.04,0H6.04M-0.45,-0.45H0.45V0.45H-0.45Z','M-6.04,0H6.04','M-6.04,0H6.04','M-6.04,0H6.04M0.58,0A0.58,0.58,0,1,1,-0.58,0A0.58,0.58,0,1,1,0.58,0Z'][datum.index]"},
                  "fill": {"signal": "scale('color', datum.value)"}
                }
              }
            }
          }
        },
        "strokeDash": {
          "field": "series", "type": "nominal",
          "scale": {
            "domain": ["CFX, DTM, y⁺ₐᵥₑ = 0.4", "CFX, P1, y⁺ₐᵥₑ = 0.4", "FLUENT, DTM, y⁺ₐᵥₑ = 280", "FLUENT, P1, y⁺ₐᵥₑ = 280", "NSMB, RRM, y⁺ₐᵥₑ = 1", "Naraghi (a)", "Wang (b)"],
            "range": [[1, 0], [1, 0], [26, 6, 5, 6], [26, 6, 5, 6], [5, 4], [32, 12], [32, 12]]
          },
          "legend": {
            "title": null, "orient": "none", "legendX": 93.5, "legendY": 9, "padding": 0, "rowPadding": 6,
            "symbolSize": 625, "symbolStrokeWidth": 2,
            "labelFont": "Liberation Sans", "labelFontSize": 34, "labelColor": "black", "labelOffset": 83.5, "labelLimit": 800,
            "encode": {
              "symbols": {
                "update": {
                  "shape": {"signal": "['M-6.04,0H6.04','M-6.04,0H6.04M0,-0.52L0.53,0.42L-0.53,0.42Z','M-6.04,0H6.04','M-6.04,0H6.04M-0.45,-0.45H0.45V0.45H-0.45Z','M-6.04,0H6.04','M-6.04,0H6.04','M-6.04,0H6.04M0.58,0A0.58,0.58,0,1,1,-0.58,0A0.58,0.58,0,1,1,0.58,0Z'][datum.index]"},
                  "fill": {"signal": "scale('color', datum.value)"}
                }
              }
            }
          }
        }
      }
    },
    {
      "data": {"name": "lines"},
      "transform": [{"filter": "indexof(datum.series, 'NSMB') >= 0"}],
      "mark": {"type": "line", "clip": true, "strokeWidth": 3.2},
      "encoding": {
        "color": {
          "field": "series", "type": "nominal",
          "scale": {
            "domain": ["CFX, DTM, y⁺ₐᵥₑ = 0.4", "CFX, P1, y⁺ₐᵥₑ = 0.4", "FLUENT, DTM, y⁺ₐᵥₑ = 280", "FLUENT, P1, y⁺ₐᵥₑ = 280", "NSMB, RRM, y⁺ₐᵥₑ = 1", "Naraghi (a)", "Wang (b)"],
            "range": ["#000000", "#000000", "#cc2229", "#cc2229", "#3c55aa", "#bd58b0", "#bd58b0"]
          },
          "legend": null
        },
        "strokeDash": {
          "field": "series", "type": "nominal",
          "scale": {
            "domain": ["CFX, DTM, y⁺ₐᵥₑ = 0.4", "CFX, P1, y⁺ₐᵥₑ = 0.4", "FLUENT, DTM, y⁺ₐᵥₑ = 280", "FLUENT, P1, y⁺ₐᵥₑ = 280", "NSMB, RRM, y⁺ₐᵥₑ = 1", "Naraghi (a)", "Wang (b)"],
            "range": [[1, 0], [1, 0], [26, 6, 5, 6], [26, 6, 5, 6], [5, 4], [32, 12], [32, 12]]
          },
          "legend": null
        }
      }
    },
    {
      "data": {"name": "markers"},
      "mark": {"type": "point", "filled": true, "opacity": 1, "size": 196, "clip": false},
      "encoding": {
        "color": {
          "field": "series", "type": "nominal",
          "scale": {
            "domain": ["CFX, DTM, y⁺ₐᵥₑ = 0.4", "CFX, P1, y⁺ₐᵥₑ = 0.4", "FLUENT, DTM, y⁺ₐᵥₑ = 280", "FLUENT, P1, y⁺ₐᵥₑ = 280", "NSMB, RRM, y⁺ₐᵥₑ = 1", "Naraghi (a)", "Wang (b)"],
            "range": ["#000000", "#000000", "#cc2229", "#cc2229", "#3c55aa", "#bd58b0", "#bd58b0"]
          },
          "legend": null
        },
        "shape": {
          "field": "series", "type": "nominal",
          "scale": {
            "domain": ["CFX, P1, y⁺ₐᵥₑ = 0.4", "FLUENT, P1, y⁺ₐᵥₑ = 280", "Wang (b)"],
            "range": ["M0,-0.95L1,0.8L-1,0.8Z", "M-0.85,-0.85H0.85V0.85H-0.85Z", "M1.1,0A1.1,1.1,0,1,1,-1.1,0A1.1,1.1,0,1,1,1.1,0Z"]
          },
          "legend": null
        }
      }
    }
  ]
}
